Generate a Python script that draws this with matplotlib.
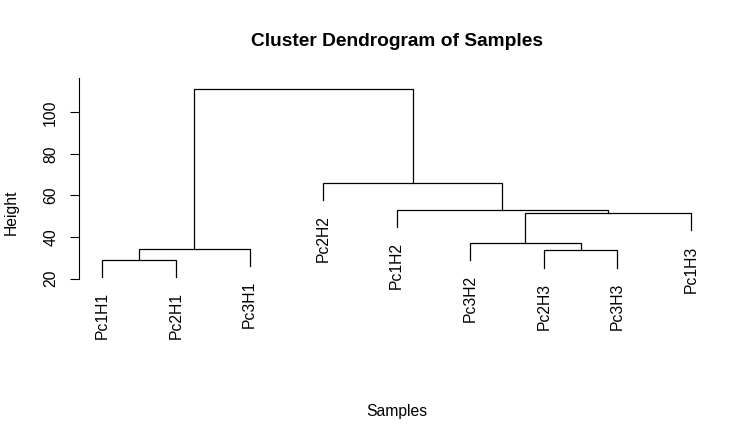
import numpy as np
import matplotlib
matplotlib.use('Agg')
import matplotlib.pyplot as plt

plt.rcParams['font.family'] = ['Liberation Sans', 'DejaVu Sans']

# Samples in original order (leaf ids -1..-9 in merge table, R style)
labels = ['Pc1H1', 'Pc2H1', 'Pc3H1', 'Pc1H2', 'Pc2H2',
          'Pc3H2', 'Pc1H3', 'Pc2H3', 'Pc3H3']
# merge steps: negative = leaf, positive = earlier merge (1-based)
merge_left = [-1, -8, 1, -6, 4, -4, -5, 3]
merge_right = [-2, -9, -3, 2, -7, 5, 6, 7]
heights = [28.9, 33.6, 34.4, 37.1, 51.5, 53.05, 65.85, 111.35]
hang = 0.1

# leaf order along the x axis
def leaf_order(node):
    if node < 0:
        return [-node - 1]
    i = node - 1
    return leaf_order(merge_left[i]) + leaf_order(merge_right[i])

order = leaf_order(len(heights))
xpos = {leaf: k + 1 for k, leaf in enumerate(order)}
drop = hang * (max(heights) - min(heights))

fig = plt.figure(figsize=(7.55, 4.42), dpi=100)
ax = fig.add_axes([0.1044, 0.2172, 0.842, 0.6063])

node_x = {}
for i in range(len(heights)):
    h = heights[i]
    pts = []
    for child in (merge_left[i], merge_right[i]):
        if child < 0:
            leaf = -child - 1
            cx, cy = xpos[leaf], h - drop
            ax.annotate(labels[leaf], xy=(cx, cy), xytext=(0, -10.8),
                        textcoords='offset points', rotation=90,
                        ha='center', va='top', fontsize=11.3)
        else:
            cx, cy = node_x[child], heights[child - 1]
        pts.append((cx, cy))
    (x1, y1), (x2, y2) = pts
    ax.plot([x1, x1, x2, x2], [y1, h, h, y2], color='black', lw=0.9,
            solid_joinstyle='miter')
    node_x[i + 1] = (x1 + x2) / 2

ax.set_xlim(0.68, 9.32)
ax.set_ylim(-12.4, 116.5)
ax.set_xticks([])
ax.set_yticks([20, 40, 60, 80, 100])
ax.tick_params(axis='y', length=6.5, width=0.8, pad=8.4, labelsize=11.3,
               labelrotation=90)
for t in ax.get_yticklabels():
    t.set_va('center')
for s in ['top', 'right', 'bottom']:
    ax.spines[s].set_visible(False)
ax.spines['left'].set_bounds(20, 116.5)
ax.spines['left'].set_linewidth(0.8)

ax.set_title('Cluster Dendrogram of Samples', fontsize=13.75,
             fontweight='bold', y=1.138, pad=0, va='center')
ax.set_xlabel('Samples', fontsize=11.3, va='center')
ax.xaxis.set_label_coords(0.5, -0.246)
ax.set_ylabel('Height', fontsize=11.3, va='center')
ax.yaxis.set_label_coords(-0.1067, 0.5)

fig.savefig('out.png', dpi=100)
